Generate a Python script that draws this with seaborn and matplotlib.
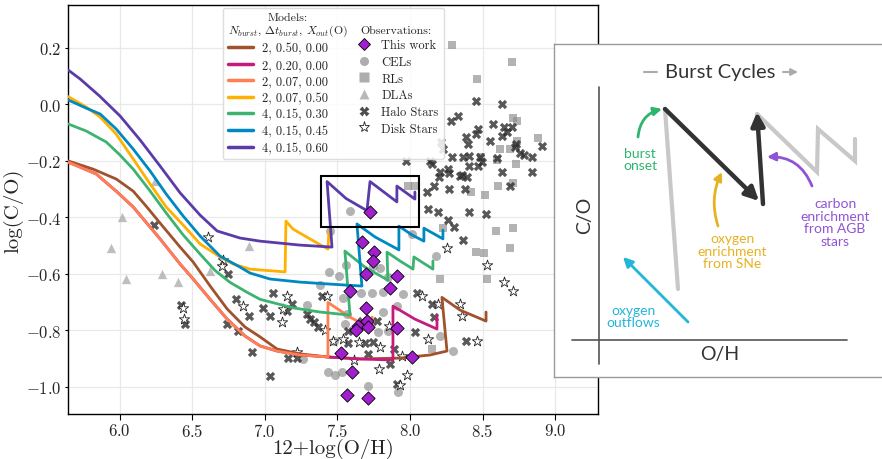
import numpy as np
import matplotlib
matplotlib.use("Agg")
import matplotlib.pyplot as plt
import seaborn as sns
from matplotlib.lines import Line2D
from matplotlib.patches import Rectangle
from matplotlib.legend_handler import HandlerLine2D

# ---------------- model tracks (12+log(O/H), log(C/O)) ----------------
model_labels = ["2, 0.50, 0.00", "2, 0.20, 0.00", "2, 0.07, 0.00", "2, 0.07, 0.50",
                "4, 0.15, 0.30", "4, 0.15, 0.45", "4, 0.15, 0.60"]
model_colors = ["#a0522d", "#c51b7d", "#ff7f50", "#ffb000", "#3cb371", "#0088c0", "#5b3ba9"]

brown_x = [5.646, 5.818, 5.977, 6.094, 6.183, 6.279, 6.417, 6.507, 6.624, 6.741, 6.864, 6.968, 7.085,
           7.243, 7.429, 7.656, 7.931, 8.138, 8.255, 8.220, 8.345, 8.524, 8.524]
brown_y = [-0.200, -0.229, -0.264, -0.307, -0.360, -0.420, -0.505, -0.558, -0.643, -0.724, -0.788, -0.823,
           -0.866, -0.883, -0.894, -0.901, -0.898, -0.887, -0.873, -0.683, -0.728, -0.767, -0.735]

magenta_x = [5.646, 5.839, 5.977, 6.094, 6.279, 6.417, 6.507, 6.624, 6.741, 6.864, 6.968, 7.085, 7.243,
             7.435, 7.656, 7.883, 7.883, 8.034, 8.186, 8.186]
magenta_y = [-0.204, -0.246, -0.307, -0.363, -0.476, -0.565, -0.618, -0.690, -0.760, -0.820, -0.855, -0.873,
             -0.887, -0.894, -0.901, -0.905, -0.714, -0.760, -0.795, -0.749]

coral_x = [5.646, 5.839, 5.977, 6.094, 6.279, 6.417, 6.507, 6.624, 6.741, 6.864, 6.968, 7.085, 7.243,
           7.435, 7.435, 7.587, 7.739, 7.739]
coral_y = [-0.204, -0.246, -0.307, -0.363, -0.476, -0.565, -0.618, -0.690, -0.760, -0.820, -0.855, -0.873,
           -0.887, -0.894, -0.701, -0.753, -0.795, -0.753]

yellow_x = [5.646, 5.770, 5.867, 5.977, 6.094, 6.211, 6.321, 6.438, 6.555, 6.692, 6.782, 6.899, 7.140,
            7.146, 7.194, 7.311, 7.435, 7.442]
yellow_y = [0.028, -0.009, -0.045, -0.105, -0.193, -0.282, -0.363, -0.427, -0.494, -0.540, -0.565, -0.583,
            -0.593, -0.413, -0.441, -0.476, -0.512, -0.452]

green_x = [5.646, 5.770, 5.908, 5.997, 6.094, 6.211, 6.321, 6.438, 6.555, 6.658, 6.761, 6.878, 6.968,
           7.194, 7.381, 7.587, 7.552, 7.690, 7.848, 7.842, 7.931, 8.021, 8.027, 8.158, 8.158]
green_y = [-0.069, -0.094, -0.133, -0.176, -0.229, -0.307, -0.384, -0.462, -0.530, -0.588, -0.630, -0.665,
           -0.690, -0.720, -0.735, -0.746, -0.519, -0.576, -0.622, -0.523, -0.554, -0.583, -0.540, -0.583,
           -0.554]

blue_x = [5.646, 5.770, 5.867, 5.977, 6.094, 6.211, 6.321, 6.438, 6.555, 6.692, 6.830, 6.899, 7.036,
          7.243, 7.449, 7.669, 7.635, 7.759, 7.924, 7.924, 8.014, 8.096, 8.096, 8.227, 8.227]
blue_y = [0.016, -0.013, -0.034, -0.087, -0.158, -0.236, -0.317, -0.395, -0.466, -0.537, -0.576, -0.597,
          -0.618, -0.629, -0.636, -0.643, -0.423, -0.469, -0.515, -0.431, -0.462, -0.484, -0.438, -0.476,
          -0.445]

purple_x = [5.646, 5.729, 5.862, 6.004, 6.142, 6.279, 6.417, 6.555, 6.672, 6.830, 6.968, 7.243, 7.463,
            7.429, 7.560, 7.704, 7.725, 7.910, 7.910, 8.034, 8.034]
purple_y = [0.122, 0.090, 0.030, -0.041, -0.126, -0.218, -0.313, -0.392, -0.448, -0.473, -0.484, -0.498,
            -0.505, -0.273, -0.333, -0.376, -0.273, -0.345, -0.289, -0.335, -0.310]

# ---------------- observations ----------------
thiswork_x = [7.726, 7.669, 7.752, 7.745, 7.697, 7.910, 7.862, 7.587, 7.697, 7.704, 7.642, 7.711, 7.628,
              7.910, 7.525, 8.014, 7.601, 7.566, 7.711]
thiswork_y = [-0.381, -0.487, -0.523, -0.554, -0.600, -0.607, -0.650, -0.660, -0.720, -0.767, -0.784, -0.788,
              -0.799, -0.792, -0.880, -0.894, -0.947, -1.029, -1.039]

cel_x = [7.587, 7.449, 7.442, 7.511, 7.560, 7.381, 7.291, 7.539, 7.553, 7.477, 7.435, 7.484, 7.532, 7.263,
         7.745, 7.794, 7.814, 7.739, 7.663, 7.814, 7.910, 8.014, 8.179, 7.711, 7.917, 7.780, 7.849, 8.206,
         8.296, 7.656, 7.566, 7.849, 7.952]
cel_y = [-0.377, -0.448, -0.593, -0.607, -0.569, -0.639, -0.710, -0.685, -0.777, -0.838, -0.947, -0.958,
         -0.947, -0.901, -0.572, -0.579, -0.664, -0.668, -0.668, -0.735, -0.714, -0.459, -0.537, -0.997,
         -1.018, -0.806, -0.802, -0.820, -0.873, -0.784, -0.742, -0.611, -0.671]

rl_x = [8.289, 8.702, 8.461, 8.709, 8.736, 8.880, 8.619, 8.688, 8.736, 8.730, 8.489, 8.599, 8.709, 8.606,
        8.420, 8.516, 7.986, 8.034, 8.227, 8.709, 8.592, 8.688, 8.454, 8.509, 8.206, 8.530, 8.151]
rl_y = [0.210, 0.150, 0.090, -0.048, -0.059, -0.119, -0.158, -0.158, -0.130, -0.211, -0.186, -0.197, -0.278,
        -0.289, -0.310, -0.321, -0.289, -0.289, -0.438, -0.438, -0.448, -0.508, -0.523, -0.526, -0.618,
        -0.618, -0.866]

dla_x = [6.245, 6.018, 5.942, 6.045, 6.293, 6.403, 6.624, 6.892]
dla_y = [-0.271, -0.400, -0.510, -0.618, -0.600, -0.629, -0.590, -0.501]

halo_x = [6.238, 6.424, 6.451, 6.747, 6.802, 6.741, 6.816, 6.892, 6.913, 7.036, 6.988, 7.036, 7.057, 7.188,
          7.153, 7.160, 7.222, 7.291, 7.312, 7.339, 7.367, 7.394, 7.573, 7.573, 7.670, 7.773, 7.690, 7.745,
          7.711, 7.862, 7.890, 7.910, 8.048, 8.151, 8.165, 8.034, 8.386, 8.454, 8.633, 8.282, 8.330, 8.468,
          8.454, 8.385, 8.399, 8.571, 8.647, 8.668, 8.702, 8.633, 8.550, 8.730, 8.723, 8.757, 8.785, 8.840,
          8.909, 8.840, 8.633, 8.599, 8.406, 8.365, 8.289, 8.482, 8.406, 8.468, 8.496, 8.227, 8.138, 8.151,
          7.972, 8.206, 8.261, 8.268, 8.199, 8.344, 8.392, 8.358, 8.268, 8.378, 8.688, 8.165, 8.117, 8.124,
          8.192, 8.406, 8.523, 8.261, 8.303, 8.365, 8.213]
halo_y = [-0.427, -0.710, -0.777, -0.600, -0.689, -0.777, -0.802, -0.749, -0.876, -0.961, -0.721, -0.749,
          -0.668, -0.707, -0.731, -0.898, -0.898, -0.742, -0.760, -0.770, -0.788, -0.678, -0.802, -0.845,
          -0.767, -0.767, -0.845, -0.841, -0.884, -0.919, -0.866, -0.990, -0.668, -0.707, -0.753, -0.806,
          -0.838, 0.012, 0.001, -0.059, -0.041, -0.087, -0.105, -0.115, -0.140, -0.069, -0.080, -0.098,
          -0.080, -0.112, -0.130, -0.140, -0.151, -0.172, -0.179, -0.186, -0.147, -0.239, -0.239, -0.190,
          -0.183, -0.186, -0.186, -0.186, -0.218, -0.218, -0.204, -0.158, -0.200, -0.211, -0.200, -0.239,
          -0.229, -0.243, -0.257, -0.253, -0.257, -0.250, -0.299, -0.299, -0.289, -0.289, -0.310, -0.370,
          -0.381, -0.381, -0.388, -0.409, -0.434, -0.480, -0.133]

disk_x = [6.610, 6.713, 6.706, 6.438, 6.445, 6.851, 7.154, 7.126, 7.119, 7.429, 7.415, 7.470, 7.539, 7.649,
          7.615, 7.794, 7.787, 7.855, 7.979, 7.931, 8.083, 8.192, 8.124, 7.945, 8.255, 8.530, 8.344, 8.358,
          8.461, 8.647, 8.709, 7.222]
disk_y = [-0.469, -0.551, -0.572, -0.721, -0.760, -0.714, -0.678, -0.724, -0.770, -0.678, -0.799, -0.838,
          -0.831, -0.841, -0.905, -0.859, -0.937, -0.784, -0.958, -0.993, -0.678, -0.707, -0.831, -0.891,
          -0.508, -0.569, -0.707, -0.749, -0.838, -0.629, -0.661, -0.876]

obs_labels = ["This work", "CELs", "RLs", "DLAs", "Halo Stars", "Disk Stars"]

# zoom box (data coords)
box_x = [7.39, 8.06]
box_y = [-0.435, -0.253]

x_ticks = [6.0, 6.5, 7.0, 7.5, 8.0, 8.5, 9.0]
y_ticks = [-1.0, -0.8, -0.6, -0.4, -0.2, 0.0, 0.2]

# ---------------- style ----------------
sns.set_theme(style="whitegrid")
plt.rcParams.update({
    "font.family": "serif",
    "font.serif": ["cmr10"],
    "mathtext.fontset": "cm",
    "axes.formatter.use_mathtext": True,
    "axes.unicode_minus": True,
    "axes.edgecolor": "black",
    "axes.linewidth": 1.0,
    "grid.color": "#e9e9e9",
    "grid.linewidth": 0.9,
})

fig = plt.figure(figsize=(8.82, 4.6), dpi=100)
fig.patch.set_facecolor("white")
ax = fig.add_axes([0.0771, 0.0978, 0.6009, 0.8891])
ax.set_facecolor("white")

# observations (background)
sns.scatterplot(x=dla_x, y=dla_y, marker="^", s=45, color="#a8a8a8", alpha=0.75, linewidth=0,
                ax=ax, legend=False, zorder=2)
sns.scatterplot(x=cel_x, y=cel_y, marker="o", s=42, color="#8a8a8a", alpha=0.65, linewidth=0,
                ax=ax, legend=False, zorder=2)
sns.scatterplot(x=rl_x, y=rl_y, marker="s", s=40, color="#8a8a8a", alpha=0.65, linewidth=0,
                ax=ax, legend=False, zorder=2)
sns.scatterplot(x=halo_x, y=halo_y, marker="X", s=45, color="#2e2e2e", alpha=0.8, linewidth=0,
                ax=ax, legend=False, zorder=2)
sns.scatterplot(x=disk_x, y=disk_y, marker="*", s=62, facecolor="white", edgecolor="#222222",
                linewidth=0.6, ax=ax, legend=False, zorder=2)

# model tracks
tracks = [(brown_x, brown_y), (magenta_x, magenta_y), (coral_x, coral_y), (yellow_x, yellow_y),
          (green_x, green_y), (blue_x, blue_y), (purple_x, purple_y)]
for (tx, ty), c in zip(tracks, model_colors):
    sns.lineplot(x=tx, y=ty, sort=False, estimator=None, color=c, lw=2.0, ax=ax, legend=False, zorder=3)

# this work
sns.scatterplot(x=thiswork_x, y=thiswork_y, marker="D", s=46, color="#a21fcf", edgecolor="black",
                linewidth=0.6, ax=ax, legend=False, zorder=4)

ax.add_patch(Rectangle((box_x[0], box_y[0]), box_x[1] - box_x[0], box_y[1] - box_y[0],
                       fill=False, ec="black", lw=1.5, zorder=5))

ax.set_xlim(5.645, 9.295)
ax.set_ylim(-1.096, 0.352)
ax.set_xticks(x_ticks)
ax.set_yticks(y_ticks)
ax.tick_params(axis="x", which="major", labelsize=12, direction="out", length=4, width=0.8,
               color="black", bottom=True, pad=2)
ax.tick_params(axis="y", which="major", labelsize=12, direction="out", length=2.5, width=0.8,
               color="black", left=True, pad=2)
ax.set_xlabel("12+log(O/H)", fontsize=15, labelpad=-1)
ax.set_ylabel("log(C/O)", fontsize=15, labelpad=2)
for sp in ax.spines.values():
    sp.set_color("black")
    sp.set_linewidth(1.0)
ax.grid(True, color="#e9e9e9", lw=0.9)


# legend: markers of the observation column sit at the left of a narrow handle box
class LeftMarkerHandler(HandlerLine2D):
    def get_xdata(self, legend, xdescent, ydescent, width, height, fontsize):
        off = 2.5
        return [-xdescent, -xdescent + 2 * off], [-xdescent + off]


blank = Line2D([], [], linestyle="none")
model_handles = [Line2D([], [], color=c, lw=2.5) for c in model_colors]
obs_handles = [
    Line2D([], [], ls="none", marker="D", ms=6.5, mfc="#a21fcf", mec="black", mew=0.6),
    Line2D([], [], ls="none", marker="o", ms=6.5, mfc="#8a8a8a", mec="none", alpha=0.7),
    Line2D([], [], ls="none", marker="s", ms=6.5, mfc="#8a8a8a", mec="none", alpha=0.7),
    Line2D([], [], ls="none", marker="^", ms=6.5, mfc="#a8a8a8", mec="none", alpha=0.8),
    Line2D([], [], ls="none", marker="X", ms=7, mfc="#2e2e2e", mec="none", alpha=0.85),
    Line2D([], [], ls="none", marker="*", ms=8, mfc="white", mec="#222222", mew=0.6),
]
hmap = {h: LeftMarkerHandler(numpoints=1) for h in obs_handles}
handles = [blank] + model_handles + [blank] + obs_handles
labels = (["Models:\n$N_{burst}$, $\\Delta t_{burst}$, $X_{out}$(O)"] + model_labels
          + ["\nObservations:"] + obs_labels)
leg = ax.legend(handles, labels, ncol=2, loc="upper left", bbox_to_anchor=(0.292, 0.993),
                borderaxespad=0, fontsize=9, handlelength=2.0, handletextpad=0.7,
                labelspacing=0.36, columnspacing=1.0, borderpad=0.4, frameon=True,
                framealpha=0.85, edgecolor="#d8d8d8", fancybox=True, handler_map=hmap)
leg.set_zorder(10)
try:
    cols = leg._legend_handle_box.get_children()
    for ci, col in enumerate(cols):
        rows = col.get_children()
        ch = rows[0].get_children()
        ch[:] = [ch[-1]]
        if ci == 1:
            for r in rows[1:]:
                r.get_children()[0].width = 9.0
except Exception:
    pass
leg.get_texts()[0].set_multialignment("center")
leg.get_texts()[0].set_linespacing(1.0)
leg.get_texts()[0].set_fontsize(8.6)
leg.get_texts()[8].set_linespacing(1.0)
leg.get_texts()[8].set_fontsize(8.6)

# ---------------- schematic panel ----------------
sk_font = ["Lato", "DejaVu Sans"]
ax2 = fig.add_axes([554 / 882, 1 - 378 / 460, 0.40, 333 / 460])
ax2.set_xlim(554, 554 + 0.40 * 882)
ax2.set_ylim(378, 45)
ax2.set_xticks([])
ax2.set_yticks([])
ax2.grid(False)
ax2.set_facecolor("white")
for sp in ax2.spines.values():
    sp.set_color("#9a9a9a")
    sp.set_linewidth(1.0)

axis_v = ([599, 599], [88, 365])
axis_h = ([572, 847], [341, 341])
gray_onset = ([678, 665], [290, 110])
gray_zigzag = ([757, 817, 818, 855, 855], [115, 173, 130, 162, 140])

ax2.plot(*axis_v, color="#555555", lw=1.2)
ax2.plot(*axis_h, color="#555555", lw=1.2)
ax2.plot(*gray_onset, color="#c8c8c8", lw=3, solid_capstyle="round")
ax2.plot(*gray_zigzag, color="#c8c8c8", lw=3, solid_capstyle="round", solid_joinstyle="miter")
ax2.annotate("", xy=(759, 202), xytext=(665, 110),
             arrowprops=dict(arrowstyle="-|>", color="#333333", lw=3.2, mutation_scale=20, shrinkA=0, shrinkB=0))
ax2.annotate("", xy=(757, 113), xytext=(763, 205),
             arrowprops=dict(arrowstyle="-|>", color="#333333", lw=3.2, mutation_scale=20, shrinkA=0, shrinkB=0))

ax2.text(720, 73, "Burst Cycles", ha="center", va="center", fontsize=14.5, color="#333333", family=sk_font)
ax2.plot([644, 657], [73, 73], color="#aaaaaa", lw=1.5)
ax2.annotate("", xy=(798, 73), xytext=(783, 73),
             arrowprops=dict(arrowstyle="-|>", color="#aaaaaa", lw=1.5, mutation_scale=10, shrinkA=0, shrinkB=0))
ax2.text(585, 215, "C/O", ha="center", va="center", rotation=90, fontsize=14, color="#333333", family=sk_font)
ax2.text(720, 355, "O/H", ha="center", va="center", fontsize=14, color="#333333", family=sk_font)

green_c, yellow_c, purple_c, cyan_c = "#2db56e", "#e6b224", "#9153d6", "#22b6d8"
ax2.annotate("", xy=(662, 110), xytext=(638, 138),
             arrowprops=dict(arrowstyle="-|>", color=green_c, lw=2, mutation_scale=12,
                             connectionstyle="arc3,rad=-0.35", shrinkA=0, shrinkB=0))
ax2.text(640, 160, "burst\nonset", ha="center", va="center", fontsize=10, color=green_c,
         family=sk_font, linespacing=1.05)
ax2.annotate("", xy=(722, 173), xytext=(718, 227),
             arrowprops=dict(arrowstyle="-|>", color=yellow_c, lw=2, mutation_scale=12,
                             connectionstyle="arc3,rad=-0.2", shrinkA=0, shrinkB=0))
ax2.text(732, 252, "oxygen\nenrichment\nfrom SNe", ha="center", va="center", fontsize=10, color=yellow_c,
         family=sk_font, linespacing=1.05)
ax2.annotate("", xy=(767, 158), xytext=(812, 187),
             arrowprops=dict(arrowstyle="-|>", color=purple_c, lw=2, mutation_scale=12,
                             connectionstyle="arc3,rad=0.35", shrinkA=0, shrinkB=0))
ax2.text(835, 223, "carbon\nenrichment\nfrom AGB\nstars", ha="center", va="center", fontsize=10,
         color=purple_c, family=sk_font, linespacing=1.05)
ax2.annotate("", xy=(623, 258), xytext=(688, 323),
             arrowprops=dict(arrowstyle="-|>", color=cyan_c, lw=2, mutation_scale=14, shrinkA=0, shrinkB=0))
ax2.text(633, 317, "oxygen\noutflows", ha="center", va="center", fontsize=10, color=cyan_c,
         family=sk_font, linespacing=1.05)

fig.savefig("out.png", dpi=100)
